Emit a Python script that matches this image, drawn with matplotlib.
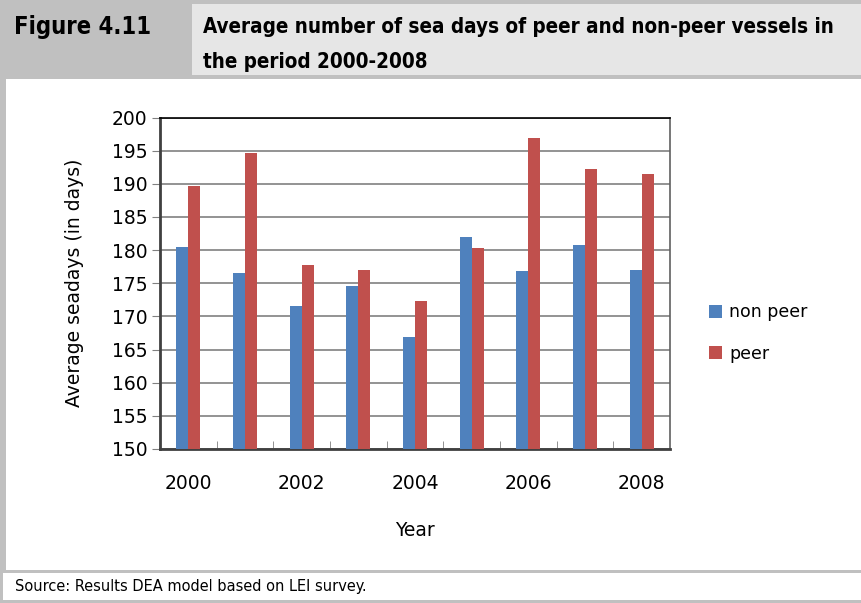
import numpy as np
import matplotlib
matplotlib.use("Agg")
import matplotlib.pyplot as plt
from matplotlib.patches import Rectangle
from matplotlib.ticker import FixedLocator, NullFormatter

# average sea days per year
years = ["2000", "2001", "2002", "2003", "2004", "2005", "2006", "2007", "2008"]
non_peer = [180.5, 176.5, 171.6, 174.6, 166.9, 182.0, 176.8, 180.8, 177.0]
peer = [189.6, 194.6, 177.7, 177.0, 172.3, 180.3, 196.9, 192.2, 191.5]
series_names = ["non peer", "peer"]

W, H = 862, 603
fig = plt.figure(figsize=(W / 100, H / 100), dpi=100)

GRAY = "#c0c0c0"
LIGHT = "#e6e6e6"
narrow = ["Liberation Sans Narrow", "DejaVu Sans"]


def box(x0, y0, x1, y1, color):
    # rectangle given in pixels, y measured from the top
    fig.patches.append(Rectangle((x0 / W, 1 - y1 / H), (x1 - x0) / W, (y1 - y0) / H,
                                 transform=fig.transFigure, color=color, lw=0, zorder=0))


# frame around the figure
box(0, 0, W, 79, GRAY)
box(192, 4, W, 75, LIGHT)
box(0, 79, 6, 573, GRAY)
box(0, 570, W, 573, GRAY)
box(0, 573, 3, H, GRAY)
box(0, 600, W, H, GRAY)

head = dict(family=narrow, stretch="condensed", weight="bold",
            va="center", ha="left")
fig.text(14 / W, 1 - 27 / H, "Figure 4.11", fontsize=17, **head)
fig.text(203 / W, 1 - 27 / H, "Average number of sea days of peer and non-peer vessels in",
         fontsize=14.8, **head)
fig.text(203 / W, 1 - 62 / H, "the period 2000-2008", fontsize=14.8, **head)
fig.text(15 / W, 1 - 587 / H, "Source: Results DEA model based on LEI survey.",
         family=narrow, stretch="condensed", fontsize=11.7, va="center", ha="left")

ax = fig.add_axes([160 / W, 1 - 449 / H, 510 / W, 331.5 / H])
x = np.arange(len(years))
bw = 0.21
ax.bar(x - bw / 2, non_peer, bw, color="#4f81bd", label=series_names[0], zorder=3)
ax.bar(x + bw / 2, peer, bw, color="#c0504d", label=series_names[1], zorder=3)

ax.set_xlim(-0.5, len(years) - 0.5)
ax.set_ylim(150, 200)
ax.set_yticks(np.arange(150, 201, 5))
ax.yaxis.grid(True, color="#8a8a8a", lw=1.3, zorder=1)
ax.set_axisbelow(True)

ax.set_xticks(x[::2])
ax.set_xticklabels(years[::2])
ax.xaxis.set_minor_locator(FixedLocator(np.arange(0.5, len(years) - 1, 1)))
ax.xaxis.set_minor_formatter(NullFormatter())
ax.tick_params(axis="x", which="major", length=0, pad=18, labelsize=13.5)
ax.tick_params(axis="x", which="minor", direction="in", length=6, color="#808080")
ax.tick_params(axis="y", direction="out", length=6, color="#808080", labelsize=13.5, pad=3)

for s in ["left", "bottom"]:
    ax.spines[s].set_color("#404040")
    ax.spines[s].set_linewidth(2)
ax.spines["top"].set_color("black")
ax.spines["top"].set_linewidth(1.2)
ax.spines["right"].set_color("#606060")
ax.spines["right"].set_linewidth(1.2)

ax.set_ylabel("Average seadays (in days)", fontsize=13.5, labelpad=20)
ax.set_xlabel("Year", fontsize=13.5, labelpad=20)

ax.legend(loc="center left", bbox_to_anchor=(1.045, 0.35), frameon=False,
          fontsize=12.5, handlelength=0.75, handleheight=0.75, handletextpad=0.45,
          labelspacing=1.35)

fig.savefig("out.png", dpi=100)
